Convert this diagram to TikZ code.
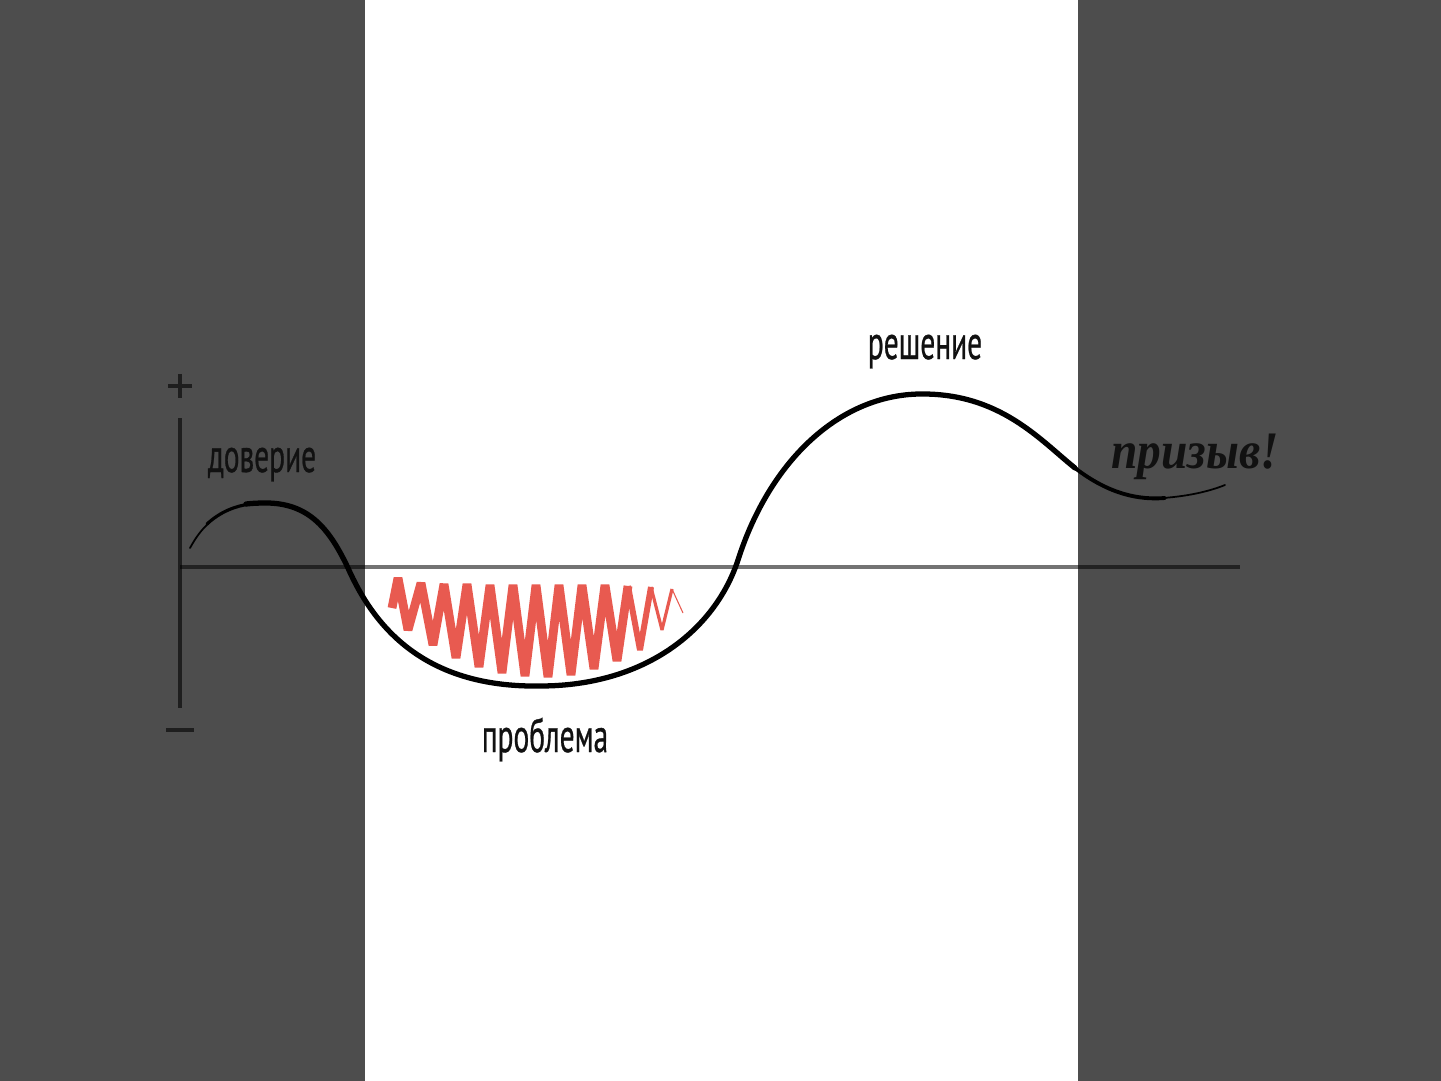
\documentclass[tikz,border=0pt]{standalone}
\usepackage{fontspec}
\newfontfamily\lab[FakeBold=0.8]{PT Sans}
\newfontfamily\cta{Liberation Serif}
\definecolor{panel}{HTML}{4D4D4D}
\definecolor{zig}{HTML}{E85A50}
\definecolor{ink}{HTML}{111111}
\tikzset{
  axisline/.style={draw=black, draw opacity=0.55, line width=2pt},
  brush/.style={draw=black, line width=3pt, line cap=round},
  label/.style={text=ink, font=\lab\fontsize{27}{30}\selectfont, anchor=base, inner sep=0pt},
  zigline/.style={draw=zig, line join=bevel, line cap=butt},
}
\begin{document}
\begin{tikzpicture}[x=0.02cm, y=-0.02cm]
\useasboundingbox (0,0) rectangle (1441,1081);
\fill[white] (0,0) rectangle (1441,1081);
\fill[panel] (0,0) rectangle (365,1081);
\fill[panel] (1078,0) rectangle (1441,1081);

% axes
\coordinate (o) at (180,567);
\coordinate (xend) at (1240,567);
\coordinate (ytop) at (180,418);
\coordinate (ybot) at (180,708);
\draw[axisline] (o) -- (xend);
\draw[axisline, draw opacity=0.6] (ytop) -- (ybot);
\draw[axisline, draw opacity=0.6] (168,386) -- (192,386) (180,374) -- (180,398);
\draw[axisline, draw opacity=0.6] (166,730) -- (194,730);

% red zigzag
\draw[zigline, line width=5pt]
  (392,608) -- (398,578) -- (408,630) -- (421,583) -- (433,645) -- (444,584) -- (456,658)
  -- (467,584) -- (479,667) -- (490,585) -- (502,673) -- (513,585) -- (525,676)
  -- (536,585) -- (548,677) -- (559,585) -- (571,675) -- (582,585) -- (594,669)
  -- (605,585) -- (617,661) -- (628,586);
\draw[zigline, line width=3.4pt] (628,586) -- (640,650) -- (651,587);
\draw[zigline, line width=1.8pt] (651,587) -- (662,630) -- (672,589);
\draw[zigline, line width=0.6pt] (672,589) -- (683,613);

% brush curve
\draw[black, line width=1pt, line cap=round] (190,548) .. controls (196,537) and (202,529) .. (210,522);
\draw[black, line width=1.8pt, line cap=round] (207,524) .. controls (220,512) and (235,506) .. (250,504);
\draw[brush]
  (246,504) .. controls (255,503) and (262,503) .. (268,503)
  .. controls (310,504) and (330,530) .. (348,568)
  .. controls (372,622) and (420,688) .. (540,686)
  .. controls (645,686) and (715,630) .. (738,560)
  .. controls (770,460) and (840,395) .. (920,394)
  .. controls (1000,393) and (1040,440) .. (1075,468);
\draw[black, line width=2.2pt, line cap=round]
  (1075,468) .. controls (1110,495) and (1140,500) .. (1165,498);
\draw[black, line width=1pt, line cap=round]
  (1163,498) .. controls (1190,496) and (1210,491) .. (1225,485);

% labels
\node[label] (trust) at (262,472) {\scalebox{0.62}[1]{доверие}};
\node[label] (sol) at (925,359) {\scalebox{0.62}[1]{решение}};
\node[label] (prob) at (545,752) {\scalebox{0.62}[1]{проблема}};
\node[text=ink, anchor=base, inner sep=0pt, font=\cta\bfseries\itshape\fontsize{30}{32}\selectfont] (call) at (1195,468) {\scalebox{0.9}[1]{призыв!}};
\end{tikzpicture}
\end{document}
